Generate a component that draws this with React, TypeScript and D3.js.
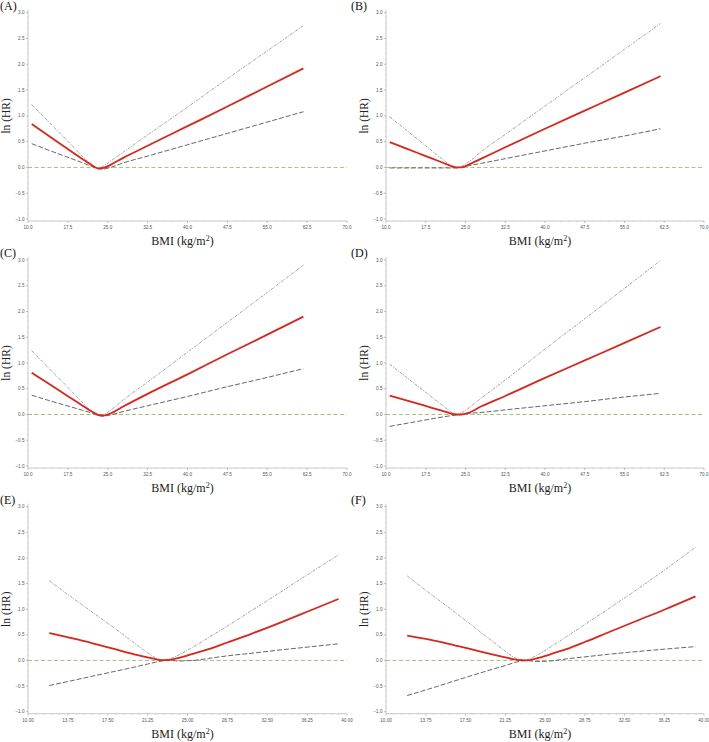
import React from "react";
import * as d3 from "d3";

// ---------- DATA ----------
const panelLabels = ["(A)", "(B)", "(C)", "(D)", "(E)", "(F)"];

const xTicksWide = [10, 17.5, 25, 32.5, 40, 47.5, 55, 62.5, 70];
const xTicksNarrow = [10, 13.75, 17.5, 21.25, 25, 28.75, 32.5, 36.25, 40];
const yTicks = [-1, -0.5, 0, 0.5, 1, 1.5, 2, 2.5, 3];

const bmiWide = [10.7, 14, 17, 20, 21.5, 22.5, 23.3, 24.2, 25.5, 28, 32.5, 40, 47.5, 55, 61.8];
const bmiNarrow = [12, 14, 16, 18, 20, 21.25, 22, 22.6, 23.3, 24.2, 25.5, 27, 28.75, 31, 33.5, 36.25, 39.2];

// Panel A
const estA = [0.84, 0.605, 0.39, 0.18, 0.08, 0.01, -0.02, -0.01, 0.05, 0.19, 0.42, 0.8, 1.18, 1.57, 1.92];
const upA = [1.22, 0.87, 0.56, 0.24, 0.09, 0.0, -0.01, 0.03, 0.12, 0.3, 0.63, 1.17, 1.72, 2.26, 2.75];
const loA = [0.46, 0.33, 0.215, 0.1, 0.04, 0.0, -0.03, -0.03, 0.0, 0.09, 0.22, 0.44, 0.66, 0.88, 1.08];
// Panel B
const estB = [0.49, 0.36, 0.24, 0.12, 0.06, 0.02, 0.0, 0.0, 0.05, 0.17, 0.39, 0.75, 1.1, 1.45, 1.77];
const upB = [0.98, 0.71, 0.46, 0.21, 0.09, 0.01, -0.01, 0.02, 0.1, 0.31, 0.64, 1.19, 1.74, 2.29, 2.79];
const loB = [-0.01, -0.01, -0.01, -0.01, -0.01, -0.01, -0.01, 0.0, 0.03, 0.08, 0.17, 0.32, 0.47, 0.61, 0.75];
// Panel C
const estC = [0.81, 0.59, 0.39, 0.19, 0.09, 0.03, -0.01, -0.02, 0.02, 0.16, 0.4, 0.78, 1.17, 1.55, 1.9];
const upC = [1.24, 0.89, 0.58, 0.26, 0.1, 0.01, -0.01, 0.0, 0.08, 0.29, 0.63, 1.21, 1.79, 2.37, 2.9];
const loC = [0.375, 0.27, 0.18, 0.09, 0.045, 0.01, -0.02, -0.03, -0.01, 0.06, 0.17, 0.35, 0.54, 0.72, 0.89];
// Panel D
const estD = [0.365, 0.27, 0.18, 0.09, 0.045, 0.01, 0.0, 0.0, 0.03, 0.16, 0.36, 0.71, 1.05, 1.39, 1.7];
const upD = [0.975, 0.71, 0.47, 0.23, 0.11, 0.03, 0.0, 0.03, 0.12, 0.32, 0.67, 1.27, 1.86, 2.45, 2.99];
const loD = [-0.23, -0.17, -0.115, -0.06, -0.035, -0.02, -0.01, 0.0, 0.02, 0.04, 0.09, 0.17, 0.25, 0.34, 0.41];
// Panel E
const estE = [0.535, 0.44, 0.34, 0.23, 0.12, 0.06, 0.025, 0.005, 0.01, 0.05, 0.13, 0.22, 0.35, 0.52, 0.72, 0.95, 1.2];
const upE = [1.555, 1.25, 0.95, 0.65, 0.34, 0.15, 0.05, 0.015, 0.03, 0.11, 0.26, 0.45, 0.67, 0.97, 1.3, 1.67, 2.06];
const loE = [-0.49, -0.4, -0.31, -0.22, -0.13, -0.07, -0.035, -0.01, 0.0, -0.01, 0.0, 0.04, 0.09, 0.14, 0.2, 0.26, 0.325];
// Panel F
const estF = [0.485, 0.41, 0.32, 0.22, 0.12, 0.06, 0.025, 0.005, 0.0, 0.04, 0.12, 0.22, 0.36, 0.55, 0.76, 0.99, 1.25];
const upF = [1.65, 1.33, 1.02, 0.7, 0.38, 0.18, 0.07, 0.02, 0.02, 0.1, 0.26, 0.46, 0.7, 1.01, 1.36, 1.76, 2.21];
const loF = [-0.685, -0.56, -0.43, -0.3, -0.175, -0.1, -0.05, -0.015, 0.0, -0.02, -0.01, 0.03, 0.07, 0.12, 0.17, 0.22, 0.27];

const panels = [
  { label: panelLabels[0], bmi: bmiWide, est: estA, up: upA, lo: loA, ticks: xTicksWide, fmt: ".1f" },
  { label: panelLabels[1], bmi: bmiWide, est: estB, up: upB, lo: loB, ticks: xTicksWide, fmt: ".1f" },
  { label: panelLabels[2], bmi: bmiWide, est: estC, up: upC, lo: loC, ticks: xTicksWide, fmt: ".1f" },
  { label: panelLabels[3], bmi: bmiWide, est: estD, up: upD, lo: loD, ticks: xTicksWide, fmt: ".1f" },
  { label: panelLabels[4], bmi: bmiNarrow, est: estE, up: upE, lo: loE, ticks: xTicksNarrow, fmt: ".2f" },
  { label: panelLabels[5], bmi: bmiNarrow, est: estF, up: upF, lo: loF, ticks: xTicksNarrow, fmt: ".2f" },
];

// ---------- LAYOUT ----------
const W = 709;
const H = 742;
const colX = [
  { x0: 28, x1: 347, labelX: 0 },
  { x0: 386, x1: 704, labelX: 351 },
];
const rowY = [
  { top: 12.7, bot: 219 },
  { top: 260, bot: 466 },
  { top: 506.7, bot: 711.7 },
];

const serif = "Liberation Serif, DejaVu Serif, serif";
const sans = "Liberation Sans, Arial, sans-serif";

function Panel({ p, col, row }: any) {
  const c = colX[col];
  const r = rowY[row];
  const xDom = [p.ticks[0], p.ticks[p.ticks.length - 1]];
  const x = d3.scaleLinear().domain(xDom).range([c.x0, c.x1]);
  const y = d3.scaleLinear().domain([-1, 3]).range([r.bot, r.top]);
  const line = d3
    .line<number>()
    .x((_, i) => x(p.bmi[i]))
    .y((v) => y(v))
    .curve(d3.curveMonotoneX);

  const step = (xDom[1] - xDom[0]) / (p.ticks.length - 1);
  const xMinor: number[] = [];
  for (let i = 0; i < p.ticks.length - 1; i++) {
    for (let k = 1; k < 5; k++) xMinor.push(p.ticks[i] + (step * k) / 5);
  }
  const yMinor: number[] = [];
  for (let i = 0; i < yTicks.length - 1; i++) {
    for (let k = 1; k < 5; k++) yMinor.push(yTicks[i] + (0.5 * k) / 5);
  }
  const fmt = d3.format(p.fmt);
  const yFmt = d3.format(".1f");
  const axisY = r.bot + 2;
  const axisColor = "#b9b9b9";
  const midX = (c.x0 + c.x1) / 2 - 5;
  const midY = (r.top + r.bot) / 2;

  return (
    <g>
      {/* axes */}
      <line x1={c.x0} x2={c.x0} y1={r.top - 3} y2={axisY} stroke={axisColor} strokeWidth={0.8} />
      <line x1={c.x0} x2={c.x1} y1={axisY} y2={axisY} stroke={axisColor} strokeWidth={0.8} />
      {yTicks.map((t) => (
        <g key={"yt" + t}>
          <line x1={c.x0 - 2} x2={c.x0} y1={y(t)} y2={y(t)} stroke="#999" strokeWidth={0.6} />
          <text x={c.x0 - 3.5} y={y(t) + 1.6} fontSize={4.6} fontFamily={sans} fill="#555" textAnchor="end">
            {yFmt(t)}
          </text>
        </g>
      ))}
      {yMinor.map((t, i) => (
        <line key={"ym" + i} x1={c.x0 - 1} x2={c.x0} y1={y(t)} y2={y(t)} stroke="#bbb" strokeWidth={0.5} />
      ))}
      {p.ticks.map((t: number) => (
        <g key={"xt" + t}>
          <line x1={x(t)} x2={x(t)} y1={axisY} y2={axisY + 2} stroke="#999" strokeWidth={0.6} />
          <text x={x(t)} y={axisY + 8} fontSize={4.6} fontFamily={sans} fill="#555" textAnchor="middle">
            {fmt(t)}
          </text>
        </g>
      ))}
      {xMinor.map((t, i) => (
        <line key={"xm" + i} x1={x(t)} x2={x(t)} y1={axisY} y2={axisY + 1.2} stroke="#bbb" strokeWidth={0.5} />
      ))}

      {/* reference line */}
      <line
        x1={c.x0}
        x2={c.x1}
        y1={y(0)}
        y2={y(0)}
        stroke="#a8bf7c"
        strokeWidth={1}
        strokeDasharray="4,2.5"
      />

      {/* CI lines */}
      <path d={line(p.up) || ""} fill="none" stroke="#8a8a8a" strokeWidth={0.8} strokeDasharray="3,1.2,1,1.2" />
      <path d={line(p.lo) || ""} fill="none" stroke="#555" strokeWidth={0.9} strokeDasharray="5,2" />
      {/* estimate */}
      <path d={line(p.est) || ""} fill="none" stroke="#d9261c" strokeWidth={1.8} />

      {/* labels */}
      <text x={c.labelX} y={r.top - 3} fontSize={12} fontFamily={serif} fill="#111">
        {p.label}
      </text>
      <text
        transform={`translate(${c.x0 - 18},${midY}) rotate(-90)`}
        fontSize={11.5}
        fontFamily={serif}
        fill="#222"
        textAnchor="middle"
      >
        ln (HR)
      </text>
      <text x={midX} y={r.bot + 26} fontSize={12} fontFamily={serif} fill="#222" textAnchor="middle">
        BMI (kg/m
        <tspan dy={-4} fontSize={8}>
          2
        </tspan>
        <tspan dy={4}>)</tspan>
      </text>
    </g>
  );
}

export default function App() {
  return (
    <svg
      width={W}
      height={H}
      viewBox={`0 0 ${W} ${H}`}
      style={{ position: "absolute", left: 0, top: 0, background: "#fff" }}
    >
      <rect width={W} height={H} fill="#fff" />
      {panels.map((p, i) => (
        <Panel key={i} p={p} col={i % 2} row={Math.floor(i / 2)} />
      ))}
    </svg>
  );
}
